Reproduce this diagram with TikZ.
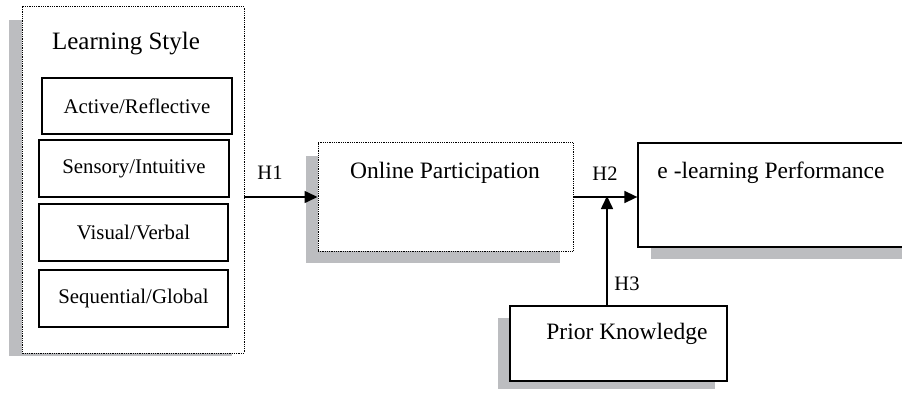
\documentclass[tikz,border=0pt]{standalone}
\usepackage{fontspec}
\setmainfont{Liberation Serif}
\usetikzlibrary{arrows.meta}
\definecolor{shadowgray}{RGB}{188,189,192}
\tikzset{
  shadowbox/.style={fill=shadowgray, draw=none},
  solidbox/.style={draw=black, line width=1.3pt, fill=white},
  dotbox/.style={draw=black, line width=1pt, dash pattern=on 0.9pt off 0.9pt, fill=white},
  inner/.style={font=\fontsize{20.8}{24}\selectfont},
  main/.style={font=\fontsize{23.5}{28}\selectfont},
  title/.style={font=\fontsize{25}{30}\selectfont},
  hlab/.style={font=\fontsize{20.5}{24}\selectfont},
  link/.style={line width=1.6pt, -{Triangle[length=13pt,width=12pt]}},
}
\begin{document}
\begin{tikzpicture}[x=1pt,y=-1pt]
\useasboundingbox (0,0) rectangle (902,393);
% shadows
\fill[shadowbox] (9,20) rectangle (232,356);
\fill[shadowbox] (306,156) rectangle (560,263);
\fill[shadowbox] (651,160) rectangle (910,259);
\fill[shadowbox] (498,318) rectangle (715,389);
% Learning style container
\draw[dotbox] (22,7) rectangle (244,353);
\node[inner sep=0, minimum width=222pt, minimum height=346pt] (LS) at (133,180) {};
\node[title] (LStitle) at (126,44) {Learning Style};
\node[solidbox, inner, inner sep=0, minimum width=190pt, minimum height=56pt] (AR) at (137,106) {Active/Reflective};
\node[solidbox, inner, inner sep=0, minimum width=190pt, minimum height=57pt] (SI) at (134,168.5) {Sensory/Intuitive};
\node[solidbox, inner, inner sep=0, minimum width=189pt, minimum height=57pt] (VV) at (133.5,232.5) {Visual/Verbal};
\node[solidbox, inner, inner sep=0, minimum width=189pt, minimum height=57pt] (SG) at (133.5,298.5) {Sequential/Global};
% Online participation
\node[dotbox, inner sep=0, minimum width=255pt, minimum height=108pt] (OP) at (445.5,197) {};
\node[main] (OPtext) at (445,173) {Online Participation};
% e-learning performance
\node[solidbox, inner sep=0, minimum width=272pt, minimum height=104pt] (EP) at (774,195) {};
\node[main] (EPtext) at (771,173) {e -learning Performance};
% prior knowledge
\node[solidbox, inner sep=0, minimum width=217pt, minimum height=75pt] (PK) at (618.5,343.5) {};
\node[main] (PKtext) at (627,334) {Prior Knowledge};
% connectors
\draw[link] (OP.west -| LS.east) -- (OP.west);
\draw[link] (OP.east) -- (OP.east -| EP.west);
\coordinate (J) at (607,196);
\draw[link] (J |- PK.north) -- (J);
% labels
\node[hlab] (H1) at (270,173) {H1};
\node[hlab] (H2) at (605,174) {H2};
\node[hlab] (H3) at (627,284) {H3};
\end{tikzpicture}
\end{document}
